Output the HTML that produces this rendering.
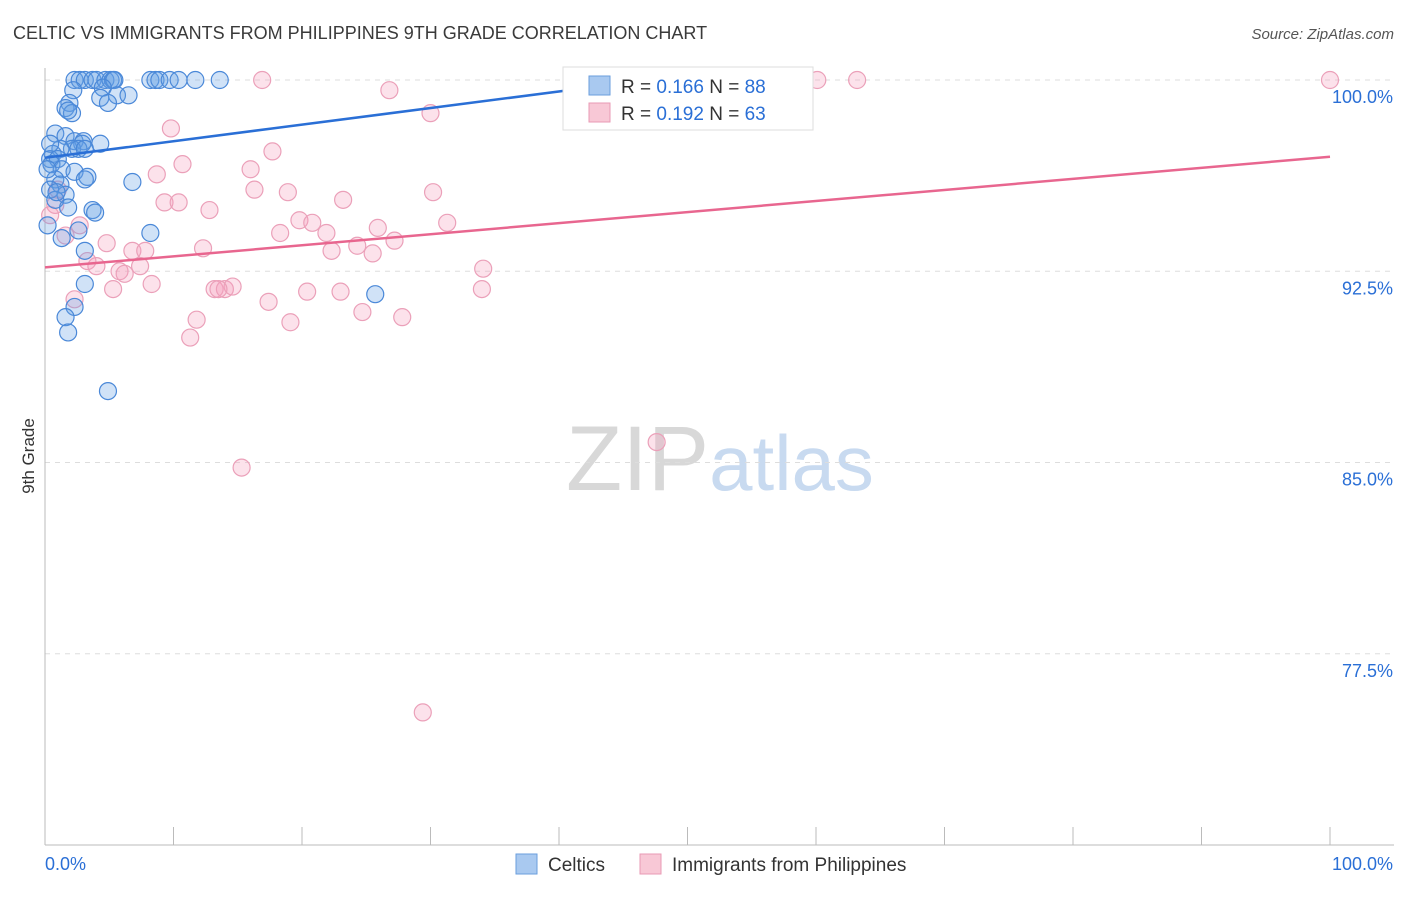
<!DOCTYPE html>
<html><head><meta charset="utf-8"><style>
body{margin:0;background:#fff;font-family:"Liberation Sans",sans-serif}
svg text{font-family:"Liberation Sans",sans-serif}
</style></head><body>
<svg id="chart" width="1406" height="892" viewBox="0 0 1406 892" xmlns="http://www.w3.org/2000/svg">
<text x="13" y="39" font-size="18" fill="#3a3a3a">CELTIC VS IMMIGRANTS FROM PHILIPPINES 9TH GRADE CORRELATION CHART</text>
<text x="1394" y="39" font-size="15" fill="#555" text-anchor="end" font-style="italic">Source: ZipAtlas.com</text>
<text x="720" y="490" font-size="92" text-anchor="middle" fill="#ddd" font-family="Liberation Serif"><tspan fill="#d8d8d8">ZIP</tspan><tspan fill="#c8daf0" font-family="Liberation Sans" font-size="78">atlas</tspan></text>
<g id="grid"></g>
<g id="axes"></g>
<g id="points"></g>
<g id="trends"></g>
<text transform="translate(34,456) rotate(-90)" font-size="17" fill="#333" text-anchor="middle">9th Grade</text>
<g>
<rect x="563" y="67" width="250" height="63" fill="#fff" stroke="#ddd"/>
<rect x="589" y="76" width="21" height="19" fill="#a9c9f0" stroke="#6a9edd"/>
<text x="621" y="93" font-size="19" fill="#333">R = <tspan fill="#2a6fd6">0.166</tspan>   N = <tspan fill="#2a6fd6">88</tspan></text>
<rect x="589" y="103" width="21" height="19" fill="#f8c8d6" stroke="#e89ab4"/>
<text x="621" y="120" font-size="19" fill="#333">R = <tspan fill="#2a6fd6">0.192</tspan>   N = <tspan fill="#2a6fd6">63</tspan></text>
</g>
<g>
<rect x="516" y="854" width="21" height="20" fill="#a9c9f0" stroke="#6a9edd"/>
<text x="548" y="871" font-size="19" fill="#333">Celtics</text>
<rect x="640" y="854" width="21" height="20" fill="#f8c8d6" stroke="#e89ab4"/>
<text x="672" y="871" font-size="19" fill="#333">Immigrants from Philippines</text>
</g>
</svg>
<script>
const yTicks=[100,92.5,85,77.5];
const yTickLabels=["100.0%","92.5%","85.0%","77.5%"];
const xTickLabels=["0.0%","100.0%"];
const celticsX=[2.3,2.7,3.1,3.7,4.0,4.7,5.1,5.3,5.4,8.2,8.6,8.9,9.7,10.4,11.7,13.6,50.2,2.2,4.5,5.6,6.5,4.3,4.9,1.9,1.6,2.1,1.8,0.8,1.6,2.3,3.0,2.9,2.1,1.2,0.6,0.4,1.0,4.3,2.6,3.1,0.5,1.3,2.3,3.3,0.8,1.2,0.4,1.6,0.8,1.8,3.7,3.9,6.8,3.1,0.2,1.3,2.6,8.2,3.1,3.1,2.3,1.6,1.8,4.9,25.7,0.4,0.2,0.9];
const celticsY=[100,100,100,100,100,100,100,100,100,100,100,100,100,100,100,100,100,99.6,99.7,99.4,99.4,99.3,99.1,99.1,98.9,98.7,98.8,97.9,97.8,97.6,97.6,97.5,97.3,97.3,97.1,96.9,96.9,97.5,97.3,97.3,96.7,96.5,96.4,96.2,96.1,95.9,95.7,95.5,95.3,95.0,94.9,94.8,96.0,96.1,94.3,93.8,94.1,94.0,93.3,92.0,91.1,90.7,90.1,87.8,91.6,97.5,96.5,95.6];
const philX=[16.9,60.1,63.2,100,26.8,30.0,9.8,17.7,10.7,16.0,8.7,16.3,18.9,30.2,9.3,10.4,23.2,12.8,19.8,20.8,31.3,18.3,21.9,25.9,4.8,24.3,27.2,22.3,25.5,12.3,6.8,7.8,3.3,4.0,5.8,6.2,7.4,34.1,8.3,5.3,13.2,14.0,14.6,13.5,20.4,23.0,34.0,17.4,2.3,11.8,19.1,24.7,27.8,11.3,47.6,15.3,29.4,0.8,0.4,2.7,1.6,1.0];
const philY=[100,100,100,100,99.6,98.7,98.1,97.2,96.7,96.5,96.3,95.7,95.6,95.6,95.2,95.2,95.3,94.9,94.5,94.4,94.4,94.0,94.0,94.2,93.6,93.5,93.7,93.3,93.2,93.4,93.3,93.3,92.9,92.7,92.5,92.4,92.7,92.6,92.0,91.8,91.8,91.8,91.9,91.8,91.7,91.7,91.8,91.3,91.4,90.6,90.5,90.9,90.7,89.9,85.8,84.8,75.2,95.1,94.7,94.3,93.9,95.7];
const celticsTrend=[96.95,100.2]; // y at x=0 and x=50
const celticsTrendX=[0,50];
const philTrend=[92.65,96.99];
const philTrendX=[0,100];
const NS="http://www.w3.org/2000/svg";
function sx(v){return 45+v*12.85;}
function sy(v){return 80+(100-v)*25.5;}
function mk(t,a,p){const e=document.createElementNS(NS,t);for(const k in a)e.setAttribute(k,a[k]);document.getElementById(p).appendChild(e);return e;}
yTicks.forEach((t,i)=>{
 const l=mk('line',{x1:45,x2:1394,y1:sy(t),y2:sy(t),stroke:'#ddd','stroke-dasharray':'5,5'},'grid');
 
 
 const tx=mk('text',{x:1393,y:sy(t)+23,'font-size':18,fill:'#2a6fd6','text-anchor':'end'},'axes');
 tx.textContent=yTickLabels[i];
 
 
});
const ax=mk('line',{x1:45,x2:45,y1:68,y2:845,stroke:'#bbb'},'axes');


const bx=mk('line',{x1:45,x2:1394,y1:845,y2:845,stroke:'#bbb'},'axes');


for(let i=0;i<=10;i++){
 const t=mk('line',{x1:sx(i*10),x2:sx(i*10),y1:827,y2:845,stroke:'#bbb'},'axes');
 
 
}
[[0,'start',45],[100,'end',1393]].forEach((d,i)=>{
 const tx=mk('text',{x:d[2],y:870,'font-size':18,fill:'#2a6fd6','text-anchor':d[1]},'axes');
 tx.textContent=xTickLabels[i];
 
 
});
philX.forEach((x,i)=>{
 const c=mk('circle',{cx:sx(x),cy:sy(philY[i]),r:8.5,fill:'rgba(245,160,190,0.3)',stroke:'#eba0b9','stroke-width':1.2},'points');
 
 
});
celticsX.forEach((x,i)=>{
 const c=mk('circle',{cx:sx(x),cy:sy(celticsY[i]),r:8.5,fill:'rgba(100,160,230,0.3)',stroke:'#4a88d8','stroke-width':1.2},'points');
 
 
});
const t1=mk('line',{x1:sx(celticsTrendX[0]),y1:sy(celticsTrend[0]),x2:sx(celticsTrendX[1]),y2:sy(celticsTrend[1]),stroke:'#2a6fd6','stroke-width':2.5},'trends');


const t2=mk('line',{x1:sx(philTrendX[0]),y1:sy(philTrend[0]),x2:sx(philTrendX[1]),y2:sy(philTrend[1]),stroke:'#e8668f','stroke-width':2.5},'trends');


</script>
</body></html>
